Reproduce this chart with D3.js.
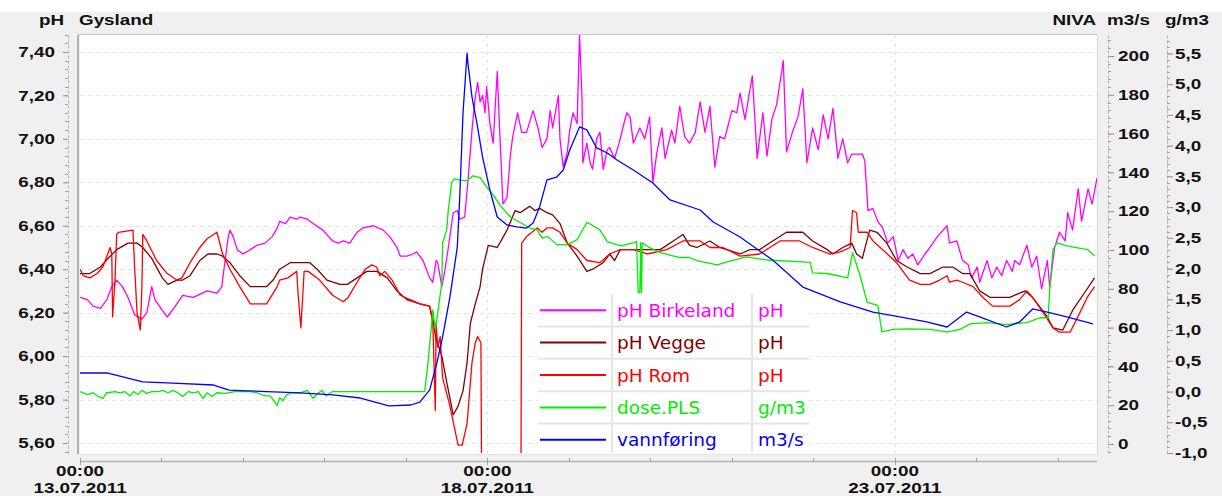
<!DOCTYPE html>
<html>
<head>
<meta charset="utf-8">
<script src="https://cdn.jsdelivr.net/npm/d3@7"></script>
<style>
body { margin: 0; background: #f0f0f0; }
svg { display: block; font-family: "Liberation Sans", Arial, sans-serif; }
</style>
</head>
<body>
<div id="chart"></div>
<script>
var W = 1222, H = 496;
var SX = 1.3; // the original text is stretched sideways

// ---- data (days after 13.07.2011 00:00, value) ----
var phTicks = [5.6, 5.8, 6.0, 6.2, 6.4, 6.6, 6.8, 7.0, 7.2, 7.4];
var flowTicks = [0, 20, 40, 60, 80, 100, 120, 140, 160, 180, 200];
var doseTicks = [-1.0, -0.5, 0.0, 0.5, 1.0, 1.5, 2.0, 2.5, 3.0, 3.5, 4.0, 4.5, 5.0, 5.5];
var dateTicks = [0, 5, 10];

var names = ["pH Birkeland", "pH Vegge", "pH Rom", "dose.PLS", "vannføring"];
var units = ["pH", "pH", "pH", "g/m3", "m3/s"];
var colors = ["#ff00ff", "#800000", "#ff0000", "#00ee00", "#0000ff"];

var birkeland = [[0,6.27],[0.09,6.26],[0.16,6.23],[0.25,6.22],[0.33,6.26],[0.39,6.32],[0.45,6.35],[0.52,6.32],[0.59,6.27],[0.67,6.19],[0.76,6.17],[0.82,6.20],[0.88,6.32],[0.92,6.26],[1.01,6.21],[1.07,6.18],[1.17,6.23],[1.26,6.28],[1.39,6.27],[1.56,6.30],[1.68,6.29],[1.74,6.32],[1.78,6.44],[1.82,6.55],[1.84,6.58],[1.88,6.55],[1.93,6.49],[2.00,6.47],[2.09,6.49],[2.17,6.51],[2.27,6.52],[2.36,6.55],[2.42,6.59],[2.45,6.62],[2.52,6.61],[2.58,6.64],[2.66,6.63],[2.70,6.64],[2.79,6.63],[2.86,6.61],[2.98,6.58],[3.10,6.53],[3.17,6.52],[3.23,6.53],[3.31,6.52],[3.40,6.57],[3.47,6.59],[3.60,6.60],[3.72,6.58],[3.80,6.55],[3.89,6.50],[3.93,6.46],[4.01,6.46],[4.09,6.47],[4.13,6.48],[4.21,6.44],[4.29,6.36],[4.33,6.34],[4.37,6.44],[4.39,6.43],[4.44,6.32],[4.48,6.40],[4.52,6.50],[4.58,6.66],[4.63,6.67],[4.66,6.63],[4.72,6.64],[4.76,6.80],[4.81,7.04],[4.85,7.19],[4.88,7.26],[4.91,7.17],[4.94,7.20],[4.97,7.12],[4.99,7.24],[5.03,7.07],[5.07,6.98],[5.12,7.31],[5.15,7.04],[5.19,6.70],[5.24,6.73],[5.28,6.92],[5.31,7.01],[5.37,7.12],[5.42,7.03],[5.48,7.03],[5.56,7.13],[5.62,7.05],[5.67,6.96],[5.73,7.00],[5.77,7.13],[5.80,7.05],[5.87,7.20],[5.89,7.00],[5.93,6.87],[5.98,6.94],[6.01,7.04],[6.05,7.12],[6.10,7.07],[6.13,7.48],[6.16,7.19],[6.17,6.89],[6.22,6.98],[6.26,6.89],[6.29,6.86],[6.34,7.00],[6.38,7.03],[6.42,6.86],[6.47,6.95],[6.50,6.96],[6.56,6.91],[6.63,7.00],[6.66,7.05],[6.71,7.12],[6.75,7.10],[6.79,6.98],[6.87,7.05],[6.93,7.00],[6.99,7.10],[7.03,6.80],[7.08,6.94],[7.14,7.05],[7.18,6.91],[7.26,7.04],[7.30,6.98],[7.36,7.15],[7.42,7.01],[7.48,6.98],[7.55,7.03],[7.61,7.17],[7.67,7.03],[7.73,7.15],[7.79,6.87],[7.85,7.01],[7.91,7.00],[8.00,7.13],[8.06,7.12],[8.10,7.21],[8.16,7.09],[8.25,7.29],[8.31,6.91],[8.38,7.12],[8.43,6.92],[8.49,7.09],[8.55,7.16],[8.63,7.36],[8.67,6.94],[8.75,7.04],[8.81,7.10],[8.87,7.23],[8.92,6.89],[8.99,7.05],[9.06,6.95],[9.12,7.11],[9.18,7.00],[9.24,7.14],[9.30,6.91],[9.36,7.00],[9.42,6.89],[9.47,6.93],[9.60,6.93],[9.63,6.90],[9.67,6.67],[9.73,6.68],[9.79,6.62],[9.85,6.59],[9.91,6.52],[9.98,6.55],[10.04,6.44],[10.10,6.49],[10.16,6.45],[10.22,6.47],[10.28,6.42],[10.37,6.47],[10.43,6.50],[10.52,6.55],[10.64,6.60],[10.67,6.52],[10.76,6.53],[10.83,6.44],[10.90,6.42],[10.94,6.36],[11.01,6.41],[11.04,6.34],[11.13,6.44],[11.19,6.36],[11.25,6.41],[11.31,6.37],[11.37,6.44],[11.44,6.39],[11.47,6.44],[11.53,6.42],[11.62,6.51],[11.68,6.41],[11.74,6.46],[11.80,6.31],[11.87,6.44],[11.90,6.32],[11.96,6.50],[12.02,6.57],[12.09,6.53],[12.12,6.66],[12.18,6.58],[12.25,6.77],[12.29,6.62],[12.37,6.77],[12.42,6.70],[12.48,6.82]];

var vegge = [[0,6.38],[0.12,6.38],[0.25,6.41],[0.37,6.46],[0.45,6.49],[0.59,6.52],[0.70,6.52],[0.77,6.50],[0.88,6.45],[1.01,6.36],[1.08,6.33],[1.19,6.35],[1.26,6.35],[1.35,6.37],[1.47,6.44],[1.57,6.47],[1.68,6.47],[1.75,6.46],[1.84,6.43],[1.96,6.37],[2.09,6.32],[2.29,6.32],[2.37,6.35],[2.45,6.40],[2.58,6.43],[2.82,6.43],[2.91,6.40],[3.03,6.35],[3.19,6.33],[3.28,6.33],[3.40,6.36],[3.52,6.39],[3.64,6.39],[3.77,6.36],[3.89,6.30],[4.01,6.26],[4.17,6.24],[4.29,6.23],[4.33,6.17],[4.37,6.07],[4.39,6.06],[4.44,6.00],[4.50,5.88],[4.58,5.73],[4.64,5.77],[4.70,5.84],[4.75,5.97],[4.79,6.15],[4.85,6.24],[4.91,6.32],[4.94,6.40],[5.01,6.51],[5.12,6.50],[5.24,6.58],[5.34,6.67],[5.40,6.66],[5.48,6.68],[5.52,6.69],[5.58,6.67],[5.64,6.68],[5.73,6.66],[5.80,6.65],[5.89,6.61],[5.98,6.52],[6.10,6.46],[6.22,6.39],[6.29,6.40],[6.42,6.43],[6.50,6.47],[6.56,6.44],[6.63,6.49],[6.71,6.49],[6.87,6.49],[7.12,6.49],[7.28,6.53],[7.40,6.56],[7.48,6.51],[7.57,6.50],[7.73,6.53],[7.85,6.50],[8.10,6.47],[8.22,6.49],[8.34,6.49],[8.50,6.53],[8.67,6.57],[8.80,6.57],[8.87,6.57],[8.99,6.53],[9.17,6.49],[9.24,6.47],[9.36,6.50],[9.47,6.52],[9.53,6.47],[9.60,6.45],[9.69,6.58],[9.78,6.57],[9.90,6.52],[10.02,6.44],[10.15,6.41],[10.31,6.38],[10.43,6.38],[10.59,6.41],[10.71,6.41],[10.83,6.38],[10.92,6.38],[11.04,6.30],[11.17,6.27],[11.41,6.27],[11.53,6.29],[11.60,6.30],[11.69,6.27],[11.87,6.18],[11.94,6.13],[12.06,6.12],[12.18,6.21],[12.36,6.31],[12.45,6.36]];

var rom = [[0,6.40],[0.04,6.37],[0.12,6.36],[0.21,6.38],[0.28,6.41],[0.34,6.47],[0.37,6.50],[0.39,6.47],[0.40,6.18],[0.43,6.35],[0.45,6.56],[0.47,6.57],[0.65,6.58],[0.67,6.41],[0.70,6.20],[0.74,6.12],[0.76,6.32],[0.77,6.56],[0.82,6.53],[0.94,6.44],[1.07,6.38],[1.19,6.35],[1.25,6.36],[1.35,6.43],[1.47,6.50],[1.56,6.54],[1.68,6.57],[1.75,6.47],[1.84,6.40],[1.96,6.32],[2.09,6.24],[2.29,6.24],[2.42,6.32],[2.45,6.35],[2.55,6.36],[2.66,6.39],[2.67,6.32],[2.71,6.13],[2.74,6.32],[2.75,6.39],[2.80,6.39],[2.94,6.35],[3.10,6.28],[3.23,6.25],[3.29,6.27],[3.40,6.34],[3.50,6.40],[3.58,6.42],[3.64,6.41],[3.68,6.37],[3.74,6.39],[3.83,6.35],[3.93,6.28],[4.05,6.26],[4.17,6.24],[4.29,6.23],[4.33,6.15],[4.36,5.75],[4.37,6.15],[4.39,6.04],[4.42,6.09],[4.45,5.90],[4.54,5.77],[4.60,5.66],[4.64,5.59],[4.69,5.59],[4.75,5.69],[4.81,5.97],[4.85,6.06],[4.88,6.09],[4.92,6.06],[4.93,5.30],[5.41,5.30],[5.42,6.52],[5.48,6.55],[5.61,6.59],[5.67,6.57],[5.73,6.59],[5.80,6.59],[5.89,6.57],[5.98,6.52],[6.10,6.49],[6.22,6.44],[6.38,6.43],[6.50,6.47],[6.63,6.49],[6.79,6.49],[6.96,6.47],[7.20,6.49],[7.40,6.53],[7.61,6.53],[7.73,6.50],[7.89,6.50],[8.10,6.46],[8.34,6.47],[8.59,6.53],[8.83,6.53],[8.99,6.50],[9.20,6.47],[9.33,6.48],[9.45,6.50],[9.48,6.67],[9.53,6.66],[9.55,6.57],[9.66,6.57],[9.73,6.53],[9.85,6.49],[10.02,6.43],[10.18,6.35],[10.31,6.33],[10.43,6.33],[10.55,6.35],[10.64,6.37],[10.67,6.34],[10.76,6.35],[10.83,6.34],[10.96,6.32],[11.08,6.27],[11.20,6.23],[11.41,6.23],[11.53,6.26],[11.62,6.30],[11.69,6.27],[11.82,6.20],[11.94,6.13],[12.02,6.11],[12.15,6.11],[12.27,6.20],[12.36,6.27],[12.45,6.32]];

var dose = [[0,0.00],[0.09,-0.05],[0.16,-0.02],[0.21,-0.07],[0.28,-0.11],[0.33,-0.02],[0.43,0.00],[0.49,-0.02],[0.55,0.00],[0.61,-0.07],[0.66,0.00],[0.71,-0.05],[0.76,0.02],[0.82,-0.03],[0.88,0.00],[0.96,0.00],[1.02,0.02],[1.08,-0.02],[1.14,0.02],[1.20,-0.02],[1.26,-0.08],[1.33,0.00],[1.39,-0.02],[1.45,0.00],[1.51,-0.11],[1.56,-0.02],[1.62,-0.08],[1.68,-0.02],[1.78,-0.03],[1.90,0.00],[2.00,0.00],[2.09,0.00],[2.17,-0.02],[2.27,-0.07],[2.33,-0.07],[2.37,-0.13],[2.42,-0.23],[2.45,-0.10],[2.49,-0.15],[2.54,-0.05],[2.60,-0.02],[2.70,-0.02],[2.79,0.02],[2.86,-0.11],[2.92,-0.03],[2.97,0.02],[3.02,-0.07],[3.10,0.00],[4.23,0.00],[4.27,0.47],[4.32,1.17],[4.33,1.33],[4.36,1.01],[4.39,1.28],[4.44,1.77],[4.45,2.42],[4.50,2.63],[4.52,2.96],[4.56,3.40],[4.60,3.46],[4.66,3.44],[4.75,3.43],[4.82,3.51],[4.91,3.48],[4.99,3.33],[5.07,3.20],[5.15,3.04],[5.28,2.84],[5.40,2.75],[5.52,2.66],[5.61,2.63],[5.67,2.50],[5.74,2.52],[5.85,2.39],[5.98,2.39],[6.10,2.47],[6.22,2.75],[6.28,2.71],[6.38,2.63],[6.47,2.44],[6.63,2.37],[6.79,2.42],[6.83,2.44],[6.85,1.61],[6.87,1.61],[6.88,2.42],[6.89,1.61],[6.90,2.42],[6.99,2.34],[7.12,2.26],[7.36,2.18],[7.48,2.18],[7.57,2.13],[7.82,2.06],[7.94,2.11],[8.18,2.19],[8.43,2.14],[8.87,2.11],[8.96,2.10],[8.99,1.93],[9.17,1.92],[9.42,1.85],[9.48,2.26],[9.57,1.90],[9.66,1.45],[9.79,1.40],[9.84,0.97],[9.98,1.01],[10.18,1.02],[10.43,1.01],[10.64,0.97],[10.80,1.01],[10.92,1.10],[11.13,1.12],[11.37,1.09],[11.62,1.12],[11.78,1.20],[11.88,1.20],[11.90,1.66],[11.94,2.31],[11.99,2.42],[12.11,2.37],[12.36,2.31],[12.45,2.21]];

var flow = [[0,36.6],[0.33,36.6],[0.77,32.0],[1.14,31.4],[1.64,30.4],[1.83,27.8],[2.70,26.3],[3.10,25.3],[3.44,23.7],[3.79,19.6],[4.06,20.1],[4.17,21.6],[4.29,27.8],[4.38,41.8],[4.45,55.2],[4.54,75.8],[4.63,101.5],[4.66,127.3],[4.70,170.6],[4.75,201.5],[4.76,196.4],[4.81,178.9],[4.87,165.5],[4.94,147.9],[5.03,130.9],[5.12,117.0],[5.24,112.9],[5.36,111.9],[5.48,111.3],[5.56,113.9],[5.64,122.2],[5.73,136.1],[5.85,137.6],[5.93,141.2],[6.01,151.5],[6.13,163.4],[6.22,161.9],[6.34,152.6],[6.47,150.0],[6.59,146.4],[6.79,141.2],[7.03,134.5],[7.24,125.8],[7.61,120.6],[7.77,114.4],[8.10,106.7],[8.50,94.8],[8.87,80.9],[9.33,73.2],[9.73,68.0],[10.06,65.5],[10.39,62.9],[10.64,60.3],[10.80,65.5],[10.88,68.0],[11.04,65.5],[11.37,60.3],[11.53,62.9],[11.69,69.6],[11.87,68.0],[12.11,65.5],[12.43,61.9]];

var series = [
  { data: birkeland, axis: "ph" },
  { data: vegge, axis: "ph" },
  { data: rom, axis: "ph" },
  { data: dose, axis: "dose" },
  { data: flow, axis: "flow" }
];

// ---- scales ----
var start = new Date(2011, 6, 13);
function day(d) { return new Date(start.getTime() + d * 864e5); }

var plot = { left: 80, right: 1097, top: 35, bottom: 453 };

var x = d3.scaleTime().domain([day(0), day(12.48)]).range([plot.left, plot.right]);
var yPh = d3.scaleLinear().domain([5.554, 7.478]).range([plot.bottom, plot.top]);
var yFlow = d3.scaleLinear().domain([-4.64, 210.8]).range([plot.bottom, plot.top]);
var yDose = d3.scaleLinear().domain([-1.0, 5.80]).range([plot.bottom, plot.top]);
var yOf = { ph: yPh, flow: yFlow, dose: yDose };

var loc = d3.formatLocale({ decimal: ",", thousands: " ", grouping: [3], currency: ["", ""], minus: "-" });

var svg = d3.select("#chart").append("svg").attr("width", W).attr("height", H);

svg.append("rect").attr("width", W).attr("height", H).attr("fill", "#f0f0f0");
svg.append("rect").attr("width", W).attr("height", 12).attr("fill", "#ffffff");

// plot area
svg.append("rect")
  .attr("x", plot.left).attr("y", plot.top)
  .attr("width", plot.right - plot.left).attr("height", plot.bottom - plot.top + 1)
  .attr("fill", "#fff");
svg.append("line").attr("x1", plot.left - 2).attr("x2", plot.right).attr("y1", plot.top - 0.5).attr("y2", plot.top - 0.5)
  .attr("stroke", "#c4c4c4");
svg.append("line").attr("x1", plot.left - 2).attr("x2", plot.left - 2).attr("y1", plot.top).attr("y2", plot.bottom + 1)
  .attr("stroke", "#b0b0b0").attr("stroke-width", 2);
svg.append("line").attr("x1", plot.right + 0.5).attr("x2", plot.right + 0.5).attr("y1", plot.top).attr("y2", plot.bottom + 1)
  .attr("stroke", "#d8d8d8");
svg.append("line").attr("x1", plot.left).attr("x2", plot.right).attr("y1", plot.bottom + 1.5).attr("y2", plot.bottom + 1.5)
  .attr("stroke", "#e4e4e4");

svg.append("defs").append("clipPath").attr("id", "clip")
  .append("rect").attr("x", plot.left).attr("y", plot.top)
  .attr("width", plot.right - plot.left).attr("height", plot.bottom - plot.top);

// grid
var grid = svg.append("g").attr("stroke", "#e4e4e4").attr("stroke-dasharray", "4,4");
grid.selectAll(".h").data(phTicks).enter().append("line")
  .attr("x1", plot.left).attr("x2", plot.right)
  .attr("y1", function(d) { return Math.round(yPh(d)) + 0.5; })
  .attr("y2", function(d) { return Math.round(yPh(d)) + 0.5; });
grid.selectAll(".v").data(dateTicks.slice(1)).enter().append("line")
  .attr("y1", plot.top).attr("y2", plot.bottom)
  .attr("x1", function(d) { return Math.round(x(day(d))) + 0.5; })
  .attr("x2", function(d) { return Math.round(x(day(d))) + 0.5; });

// lines
var lines = svg.append("g").attr("clip-path", "url(#clip)");
series.forEach(function(s, i) {
  var y = yOf[s.axis];
  var line = d3.line()
    .x(function(d) { return x(day(d[0])); })
    .y(function(d) { return y(d[1]); });
  lines.append("path")
    .attr("d", line(s.data))
    .attr("fill", "none")
    .attr("stroke", colors[i])
    .attr("stroke-width", 1.3)
    .attr("stroke-linejoin", "round");
});

// legend
var lg = { x: 538, y: 294, w: 271, row: 32.4, c1: 612, c2: 752 };
var legend = svg.append("g");
legend.append("rect").attr("x", lg.x).attr("y", lg.y).attr("width", lg.w)
  .attr("height", plot.bottom - lg.y).attr("fill", "#fff");
legend.selectAll(".sep").data(d3.range(1, names.length)).enter().append("line")
  .attr("x1", lg.x).attr("x2", lg.x + lg.w)
  .attr("y1", function(i) { return lg.y + i * lg.row; })
  .attr("y2", function(i) { return lg.y + i * lg.row; })
  .attr("stroke", "#e6e6e6").attr("stroke-width", 2);
[lg.c1, lg.c2].forEach(function(cx) {
  legend.append("line").attr("x1", cx).attr("x2", cx).attr("y1", lg.y).attr("y2", plot.bottom)
    .attr("stroke", "#e6e6e6").attr("stroke-width", 2);
});
var rows = legend.selectAll(".row").data(names).enter().append("g")
  .attr("transform", function(d, i) { return "translate(0," + (lg.y + (i + 0.5) * lg.row) + ")"; });
rows.append("line").attr("x1", 540).attr("x2", 606).attr("y1", 0).attr("y2", 0)
  .attr("stroke", function(d, i) { return colors[i]; }).attr("stroke-width", 2);
rows.append("text").attr("x", 617).attr("y", 6.5)
  .style("font-family", "'DejaVu Sans', sans-serif").style("font-size", "18.5px")
  .attr("fill", function(d, i) { return colors[i]; })
  .text(function(d) { return d; });
rows.append("text").attr("x", 758).attr("y", 6.5)
  .style("font-family", "'DejaVu Sans', sans-serif").style("font-size", "18.5px")
  .attr("fill", function(d, i) { return colors[i]; })
  .text(function(d, i) { return units[i]; });

// axes
function styleAxis(g, labelX, anchor) {
  g.select(".domain").attr("stroke", "#b4b4b4").attr("stroke-dasharray", "3,2");
  g.selectAll(".tick line").attr("stroke", "#8a8a8a");
  g.selectAll(".tick text")
    .attr("x", labelX / SX)
    .attr("transform", "scale(" + SX + ",1)")
    .attr("text-anchor", anchor)
    .attr("fill", "#111")
    .style("font-size", "14.5px").style("font-weight", "bold")
    .style("font-family", "'Liberation Sans', Arial, sans-serif");
}
function minor(g, scale, values, dir) {
  g.selectAll(".minor").data(values).enter().append("line")
    .attr("x1", 0).attr("x2", 3 * dir)
    .attr("y1", function(d) { return Math.round(scale(d)) + 0.5; })
    .attr("y2", function(d) { return Math.round(scale(d)) + 0.5; })
    .attr("stroke", "#a0a0a0");
}

var axL = svg.append("g").attr("transform", "translate(68,0)")
  .call(d3.axisLeft(yPh).tickValues(phTicks).tickSize(5).tickSizeOuter(0).tickFormat(loc.format(".2f")));
styleAxis(axL, -13, "end");
minor(axL, yPh, d3.range(5.56, 7.48, 0.04), -1);

var axF = svg.append("g").attr("transform", "translate(1108,0)")
  .call(d3.axisRight(yFlow).tickValues(flowTicks).tickSize(6).tickSizeOuter(0).tickFormat(loc.format("d")));
styleAxis(axF, 10, "start");
minor(axF, yFlow, d3.range(-4, 210, 4), 1);

var axD = svg.append("g").attr("transform", "translate(1167,0)")
  .call(d3.axisRight(yDose).tickValues(doseTicks).tickSize(6).tickSizeOuter(0).tickFormat(loc.format(".1f")));
styleAxis(axD, 8, "start");
minor(axD, yDose, d3.range(-1.0, 5.8, 0.1), 1);

// time axis
var axX = svg.append("g");
axX.append("line").attr("x1", plot.left).attr("x2", plot.right).attr("y1", 461.5).attr("y2", 461.5)
  .attr("stroke", "#b4b4b4").attr("stroke-width", 1.5);
axX.selectAll(".dt").data(d3.range(0, 13)).enter().append("line")
  .attr("x1", function(d) { return Math.round(x(day(d))) + 0.5; })
  .attr("x2", function(d) { return Math.round(x(day(d))) + 0.5; })
  .attr("y1", 458).attr("y2", function(d) { return dateTicks.indexOf(d) >= 0 ? 465 : 462; })
  .attr("stroke", "#a0a0a0");
var fTime = d3.timeFormat("%H:%M"), fDate = d3.timeFormat("%d.%m.%Y");
var xl = axX.selectAll(".xl").data(dateTicks).enter().append("g")
  .attr("transform", function(d) { return "translate(" + x(day(d)) + ",0)"; });
[[476, fTime], [493, fDate]].forEach(function(r) {
  xl.append("text")
    .attr("transform", "translate(0," + r[0] + ") scale(" + SX + ",1)")
    .attr("text-anchor", "middle")
    .style("font-size", "14.5px").style("font-weight", "bold").attr("fill", "#111")
    .text(function(d) { return r[1](day(d)); });
});

// header labels
function head(txt, px, anchor) {
  svg.append("text")
    .attr("transform", "translate(" + px + ",25) scale(" + SX + ",1)")
    .attr("text-anchor", anchor)
    .style("font-size", "14.5px").style("font-weight", "bold").attr("fill", "#111")
    .text(txt);
}
head("pH", 39, "start");
head("Gysland", 79, "start");
head("NIVA", 1096, "end");
head("m3/s", 1107, "start");
head("g/m3", 1165, "start");
</script>
</body>
</html>
